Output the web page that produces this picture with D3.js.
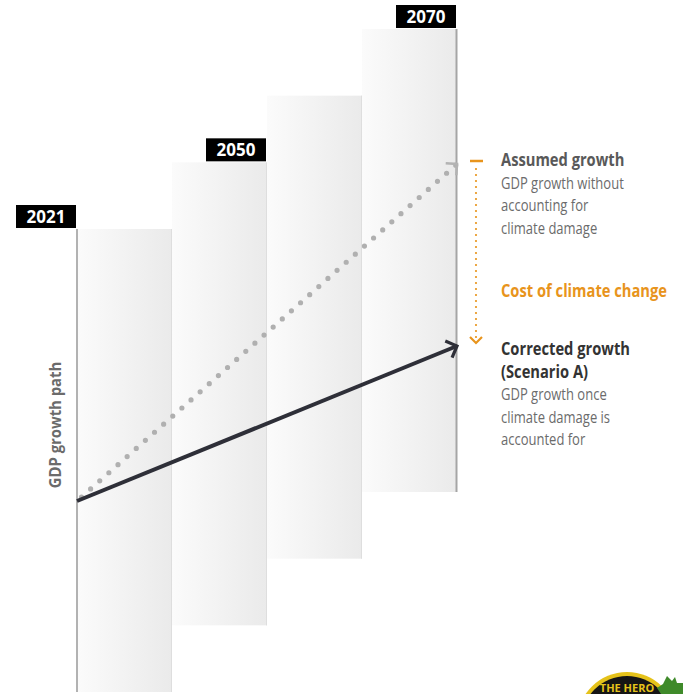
<!DOCTYPE html>
<html>
<head>
<meta charset="utf-8">
<script src="https://cdn.jsdelivr.net/npm/d3@7"></script>
<style>
  body { margin: 0; background: #fff; }
  svg { display: block; font-family: "Open Sans", sans-serif; }
</style>
</head>
<body>
<div id="chart"></div>
<script>
// stages along the path (panel edges), year labels and the two growth paths
var stages = [0, 1, 2, 3, 4];
var panels = [0, 1, 2, 3];
var yearLabels = ["2021", "2050", "2070"];
var yearStages = [0, 2, 4];
var assumedGrowth = [100, 200];
var correctedGrowth = [100, 146];
var pathStages = [0, 4];

var assumedText = ["GDP growth without", "accounting for", "climate damage"];
var correctedText = ["GDP growth once", "climate damage is", "accounted for"];

var width = 683, height = 694;

var svg = d3.select("#chart")
  .append("svg")
    .attr("width", width)
    .attr("height", height);

var x = d3.scaleLinear().domain([0, 4]).range([77, 457]);
var y = d3.scaleLinear().domain([100, 200]).range([501, 164]);
var panelTop = d3.scaleLinear().domain([0, 3]).range([229, 29]);
var panelHeight = 463;

var defs = svg.append("defs");
var grad = defs.append("linearGradient").attr("id", "panelGrad");
grad.append("stop").attr("offset", "0%").attr("stop-color", "#fbfbfb");
grad.append("stop").attr("offset", "100%").attr("stop-color", "#eaeaea");

// arrow heads
defs.append("marker")
    .attr("id", "arrowDark")
    .attr("markerUnits", "userSpaceOnUse")
    .attr("viewBox", "-12 -12 16 24")
    .attr("markerWidth", 16).attr("markerHeight", 24)
    .attr("orient", "auto")
  .append("path")
    .attr("d", "M-9,-9 L0,0 L-9,9")
    .attr("fill", "none")
    .attr("stroke", "#2e2f38")
    .attr("stroke-width", 3.2);

defs.append("marker")
    .attr("id", "arrowGray")
    .attr("markerUnits", "userSpaceOnUse")
    .attr("viewBox", "-12 -12 16 24")
    .attr("markerWidth", 16).attr("markerHeight", 24)
    .attr("orient", "auto")
  .append("path")
    .attr("d", "M-8,-8 L0,0 L-8,8")
    .attr("fill", "none")
    .attr("stroke", "#b3b3b3")
    .attr("stroke-width", 2.6);

// staggered panels
svg.selectAll("rect.panel")
  .data(panels)
  .enter()
  .append("rect")
    .attr("class", "panel")
    .attr("x", function(d) { return x(d); })
    .attr("y", function(d) { return panelTop(d); })
    .attr("width", function(d) { return x(d + 1) - x(d); })
    .attr("height", panelHeight)
    .attr("fill", "url(#panelGrad)");

svg.selectAll("line.edge")
  .data(panels)
  .enter()
  .append("line")
    .attr("class", "edge")
    .attr("x1", function(d) { return x(d + 1) - 0.5; })
    .attr("x2", function(d) { return x(d + 1) - 0.5; })
    .attr("y1", function(d) { return panelTop(d); })
    .attr("y2", function(d) { return panelTop(d) + panelHeight; })
    .attr("stroke", function(d) { return d === 3 ? "#a5a5a5" : "#dedede"; })
    .attr("stroke-width", function(d) { return d === 3 ? 2 : 1; });

svg.append("line")
    .attr("x1", x(0)).attr("x2", x(0))
    .attr("y1", panelTop(0)).attr("y2", panelTop(0) + panelHeight)
    .attr("stroke", "#b2b2b2")
    .attr("stroke-width", 2);

// year labels
var labels = svg.selectAll("g.year")
  .data(yearLabels)
  .enter()
  .append("g")
    .attr("class", "year")
    .attr("transform", function(d, i) {
      var s = yearStages[i];
      var bottom = panelTop(Math.max(0, s - 1));
      return "translate(" + x(s) + "," + bottom + ")";
    });

labels.append("rect")
    .attr("x", -61).attr("y", -24)
    .attr("width", 60).attr("height", 23)
    .attr("fill", "#000");

labels.append("text")
    .attr("x", -31).attr("y", -6)
    .attr("text-anchor", "middle")
    .attr("fill", "#fff")
    .attr("font-weight", "bold")
    .attr("font-size", 17)
    .text(function(d) { return d; });

// growth paths
var line = d3.line()
    .x(function(d, i) { return x(pathStages[i]); })
    .y(function(d) { return y(d); });

svg.append("path")
    .datum(assumedGrowth)
    .attr("d", line)
    .attr("fill", "none")
    .attr("stroke", "#b0b0b0")
    .attr("stroke-width", 5.2)
    .attr("stroke-linecap", "round")
    .attr("stroke-dasharray", "0,12.2")
    .attr("stroke-dashoffset", -6)
    .attr("marker-end", "url(#arrowGray)");

svg.append("path")
    .datum(correctedGrowth)
    .attr("d", line)
    .attr("fill", "none")
    .attr("stroke", "#2e2f38")
    .attr("stroke-width", 4)
    .attr("marker-end", "url(#arrowDark)");

// cost of climate change indicator
var orange = "#e8941c";
var gapX = 476;
svg.append("line")
    .attr("x1", gapX - 6).attr("x2", gapX + 7)
    .attr("y1", y(assumedGrowth[1]) - 3).attr("y2", y(assumedGrowth[1]) - 3)
    .attr("stroke", orange).attr("stroke-width", 2.5);

svg.append("line")
    .attr("x1", gapX).attr("x2", gapX)
    .attr("y1", y(assumedGrowth[1]) + 5).attr("y2", y(correctedGrowth[1]) - 6)
    .attr("stroke", orange).attr("stroke-width", 2.2)
    .attr("stroke-linecap", "round")
    .attr("stroke-dasharray", "0,6");

svg.append("path")
    .attr("d", "M" + (gapX - 6) + "," + (y(correctedGrowth[1]) - 9) +
               " L" + gapX + "," + (y(correctedGrowth[1]) - 3) +
               " L" + (gapX + 6) + "," + (y(correctedGrowth[1]) - 9))
    .attr("fill", "none").attr("stroke", orange).attr("stroke-width", 2.2);

// annotation texts (condensed look)
function block(yTop, lines) {
  var g = svg.append("g")
      .attr("transform", "translate(501," + yTop + ") scale(0.84,1)");
  lines.forEach(function(l, i) {
    g.append("text")
        .attr("x", 0)
        .attr("y", i * 22.6)
        .attr("fill", l.color)
        .attr("font-weight", l.bold ? "bold" : "normal")
        .attr("font-size", l.bold ? 17.5 : 15.5)
        .text(l.text);
  });
}

block(166, [{text: "Assumed growth", bold: true, color: "#595959"}]
  .concat(assumedText.map(function(t) { return {text: t, color: "#6b6b6b"}; })));

block(297, [{text: "Cost of climate change", bold: true, color: orange}]);

block(355, [{text: "Corrected growth", bold: true, color: "#333"},
            {text: "(Scenario A)", bold: true, color: "#333"}]
  .concat(correctedText.map(function(t) { return {text: t, color: "#6b6b6b"}; })));

// vertical axis title
svg.append("text")
    .attr("transform", "translate(61,425) scale(1,0.9) rotate(-90)")
    .attr("text-anchor", "middle")
    .attr("fill", "#6b6b6b")
    .attr("font-weight", "bold")
    .attr("font-size", 16.5)
    .text("GDP growth path");

// partial badge in the corner
var badge = svg.append("g").attr("transform", "translate(627,722)");
badge.append("circle").attr("r", 50).attr("fill", "#e5c21a");
badge.append("circle").attr("r", 46).attr("fill", "#151515");
badge.append("path")
    .attr("d", "M667,676 l5,5 l3,-4 l2,6 l6,0 l0,11 l-22,0 l-4,-6 l6,-4 z")
    .attr("transform", "translate(-627,-722)")
    .attr("fill", "#3f8a2a");
badge.append("text")
    .attr("y", -30).attr("text-anchor", "middle")
    .attr("fill", "#e5c21a").attr("font-weight", "bold").attr("font-size", 11)
    .text("THE HERO");
</script>
</body>
</html>
